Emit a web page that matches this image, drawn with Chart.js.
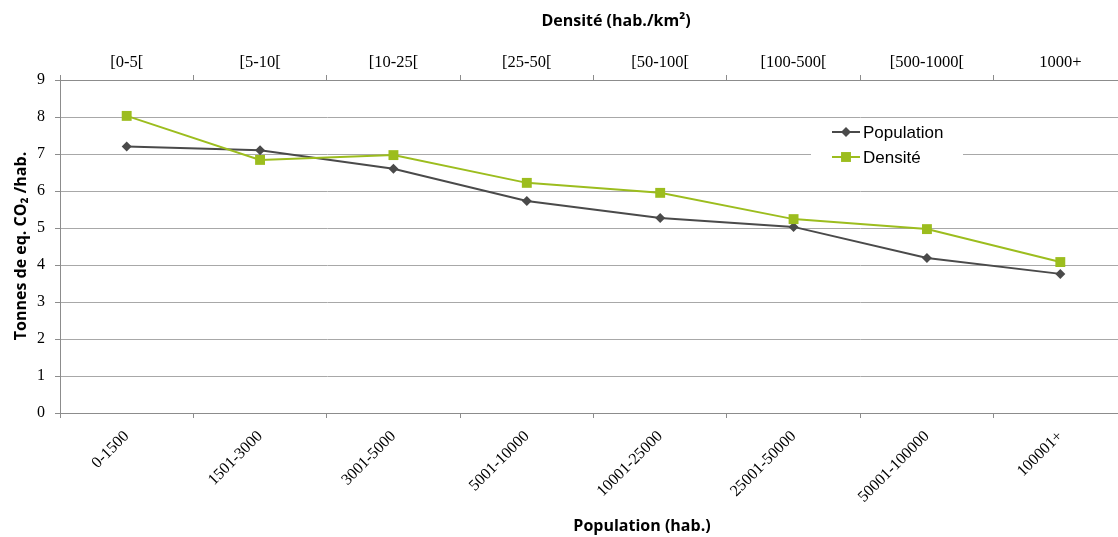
<!DOCTYPE html>
<html>
<head>
<meta charset="utf-8">
<script src="https://cdn.jsdelivr.net/npm/chart.js@4/dist/chart.umd.min.js"></script>
<style>
  html, body { margin: 0; padding: 0; background: #ffffff; overflow: hidden; }
  #wrap { width: 1118px; height: 537px; overflow: hidden; }
  canvas { display: block; }
</style>
</head>
<body>
<div id="wrap"><canvas id="c" width="1134" height="537"></canvas></div>
<script>
// Population classes (bottom axis) and density classes (top axis)
const populationLabels = ['0-1500', '1501-3000', '3001-5000', '5001-10000', '10001-25000', '25001-50000', '50001-100000', '100001+'];
const densityLabels = ['[0-5[', '[5-10[', '[10-25[', '[25-50[', '[50-100[', '[100-500[', '[500-1000[', '1000+'];

// Tonnes of CO2 equivalent per inhabitant
const populationValues = [7.2, 7.1, 6.6, 5.73, 5.27, 5.03, 4.19, 3.76];
const densityValues = [8.03, 6.84, 6.97, 6.22, 5.95, 5.24, 4.97, 4.08];

const yTicks = [0, 1, 2, 3, 4, 5, 6, 7, 8, 9];

const GREY = '#4a4a4a';
const GREEN = '#9cbd1e';
const AXIS = '#8c8c8c';
const GRID = '#a8a8a8';
const serif = "'Liberation Serif', 'Times New Roman', serif";
const titleFont = "bold 16px 'Open Sans', 'Liberation Sans', sans-serif";

// Axis titles, placed around the plot
const titlePlugin = {
  id: 'axisTitles',
  afterDraw(chart) {
    const ctx = chart.ctx;
    ctx.save();
    ctx.fillStyle = '#000000';
    ctx.font = titleFont;
    ctx.textAlign = 'center';
    ctx.textBaseline = 'middle';
    ctx.fillText('Densité (hab./km²)', 616, 21);
    ctx.fillText('Population (hab.)', 642, 526);
    ctx.translate(21, 246);
    ctx.rotate(-Math.PI / 2);
    ctx.fillText('Tonnes de eq. CO₂ /hab.', 0, 0);
    ctx.restore();
  }
};

// Legend box sitting inside the plot area
const legendPlugin = {
  id: 'insideLegend',
  afterDatasetsDraw(chart) {
    const ctx = chart.ctx;
    const items = [
      { text: 'Population', color: GREY, style: 'rectRot', size: 5 },
      { text: 'Densité', color: GREEN, style: 'rect', size: 7 }
    ];
    ctx.save();
    ctx.fillStyle = '#ffffff';
    ctx.fillRect(811, 120, 152, 50);
    ctx.font = "17px 'Liberation Sans', Arial, sans-serif";
    ctx.textBaseline = 'middle';
    items.forEach((it, i) => {
      const y = 132 + i * 25;
      ctx.strokeStyle = it.color;
      ctx.lineWidth = 2;
      ctx.beginPath();
      ctx.moveTo(832, y);
      ctx.lineTo(860, y);
      ctx.stroke();
      ctx.fillStyle = it.color;
      Chart.helpers.drawPoint(ctx, { pointStyle: it.style, radius: it.size, borderWidth: 0 }, 846, y);
      ctx.fillStyle = '#000000';
      ctx.fillText(it.text, 863, y + 1);
    });
    ctx.restore();
  }
};

new Chart(document.getElementById('c'), {
  type: 'line',
  data: {
    labels: populationLabels,
    datasets: [
      {
        label: 'Population',
        data: populationValues,
        borderColor: GREY,
        backgroundColor: GREY,
        borderWidth: 2,
        pointStyle: 'rectRot',
        pointRadius: 5,
        pointBorderWidth: 0,
        tension: 0,
        order: 1
      },
      {
        label: 'Densité',
        data: densityValues,
        borderColor: GREEN,
        backgroundColor: GREEN,
        borderWidth: 2,
        pointStyle: 'rect',
        pointRadius: 7,
        pointBorderWidth: 0,
        tension: 0,
        order: 0
      }
    ]
  },
  options: {
    responsive: false,
    animation: false,
    devicePixelRatio: 1,
    layout: { padding: 0 },
    plugins: {
      legend: { display: false },
      tooltip: { enabled: false }
    },
    scales: {
      x: {
        type: 'category',
        position: 'bottom',
        offset: true,
        afterFit(s) { s.height = 124; },
        border: { color: AXIS, width: 1 },
        grid: { drawOnChartArea: false, drawTicks: true, tickLength: 5, tickColor: AXIS, offset: true },
        ticks: {
          color: '#000',
          font: { family: serif, size: 16 },
          minRotation: 45,
          maxRotation: 45,
          padding: 9,
          autoSkip: false
        }
      },
      x2: {
        type: 'category',
        position: 'top',
        labels: densityLabels,
        offset: true,
        afterFit(s) { s.height = 80; },
        border: { color: AXIS, width: 1 },
        grid: { drawOnChartArea: false, drawTicks: true, tickLength: 5, tickColor: AXIS, offset: true },
        ticks: {
          color: '#000',
          font: { family: serif, size: 16.5 },
          maxRotation: 0,
          padding: 2,
          autoSkip: false
        }
      },
      y: {
        type: 'linear',
        position: 'left',
        min: yTicks[0],
        max: yTicks[yTicks.length - 1],
        afterFit(s) { s.width = 60; },
        afterBuildTicks(s) { s.ticks = yTicks.map(v => ({ value: v })); },
        border: { color: AXIS, width: 1 },
        grid: { color: GRID, lineWidth: 1, drawTicks: true, tickLength: 5, tickColor: AXIS },
        ticks: {
          color: '#000',
          font: { family: serif, size: 16 },
          padding: 10
        }
      }
    }
  },
  plugins: [legendPlugin, titlePlugin]
});
</script>
</body>
</html>
